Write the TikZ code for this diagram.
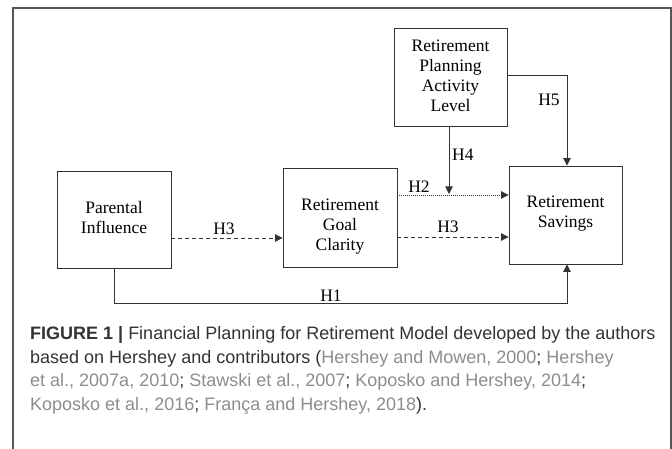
\documentclass[tikz,border=0pt]{standalone}
\usepackage{fontspec}
\setmainfont{Liberation Serif}
\newfontfamily\capfont{Liberation Sans}
\usetikzlibrary{arrows.meta,calc}
\definecolor{lnc}{HTML}{333333}
\definecolor{capc}{HTML}{333333}
\definecolor{cit}{HTML}{8C8C8C}
\definecolor{frm}{HTML}{555555}
\begin{document}
\begin{tikzpicture}[x=1pt,y=-1pt,
  box/.style={draw=lnc, line width=0.9pt, minimum width=114pt, minimum height=98pt, inner sep=0pt},
  lbl/.style={font=\fontsize{17.5}{20}\selectfont, text=black, inner sep=0pt, align=center},
  conn/.style={draw=lnc, line width=0.9pt, -{Triangle[length=7.5pt,width=7.5pt]}},
  dashconn/.style={conn, dash pattern=on 4pt off 3pt},
  dotconn/.style={conn, dash pattern=on 1pt off 1pt},
  hyp/.style={font=\fontsize{17.5}{20}\selectfont, inner sep=0pt},
  captxt/.style={font=\capfont\fontsize{18}{21}\selectfont, text=capc, anchor=base west, inner sep=0pt}]
\useasboundingbox (0,0) rectangle (672,449);
\draw[frm, line width=1.6pt] (13,449) -- (13,8) -- (671,8) -- (671,449);

% boxes
\node[box, minimum height=97pt] (PI) at (114,219.5) {};
\node[lbl] (PIt) at (114,218) {Parental\\Influence};
\node[box, minimum height=99pt] (RGC) at (340,217.5) {};
\node[lbl] (RGCt) at (340,227) {Retirement\\Goal\\Clarity};
\node[box, minimum width=113pt] (RS) at (565.5,215) {};
\node[lbl] (RSt) at (565.5,213.5) {Retirement\\Savings};
\node[box, minimum width=113pt] (RPAL) at (450.5,77) {};
\node[lbl] (RPALt) at (450.5,76) {Retirement\\Planning\\Activity\\Level};

% connectors
\draw[dashconn] ([yshift=-18.5pt]PI.east) -- ([yshift=-20.5pt]RGC.west);
\draw[dashconn] ([yshift=-19.5pt]RGC.east) -- ([yshift=-22pt]RS.west);
\draw[dotconn] ([yshift=22.5pt]RGC.east) -- ([yshift=20pt]RS.west);
\coordinate (h4end) at (449,194);
\draw[conn] (RPAL.south -| h4end) -- (h4end);
\draw[conn] ([yshift=2pt]RPAL.east) -| ([xshift=1.5pt]RS.north);
\draw[conn] (PI.south) -- ++(0,35) -| ([xshift=1.5pt]RS.south);

% hypothesis labels
\node[hyp] (lH3a) at (224,229) {H3};
\node[hyp] (lH3b) at (448,227) {H3};
\node[hyp] (lH2) at (419,187) {H2};
\node[hyp, anchor=west] (lH4) at (452,155) {H4};
\node[hyp] (lH5) at (549,100) {H5};
\node[hyp] (lH1) at (331,296) {H1};

% caption
\node[captxt] (cap1) at (30,339.5) {\textbf{FIGURE 1 |} Financial Planning for Retirement Model developed by the authors};
\node[captxt] (cap2) at (30,363) {based on Hershey and contributors (\textcolor{cit}{Hershey and Mowen, 2000}; \textcolor{cit}{Hershey}};
\node[captxt] (cap3) at (30,386.5) {\textcolor{cit}{et al., 2007a, 2010}; \textcolor{cit}{Stawski et al., 2007}; \textcolor{cit}{Koposko and Hershey, 2014};};
\node[captxt] (cap4) at (30,410) {\textcolor{cit}{Koposko et al., 2016}; \textcolor{cit}{França and Hershey, 2018}).};
\end{tikzpicture}
\end{document}
